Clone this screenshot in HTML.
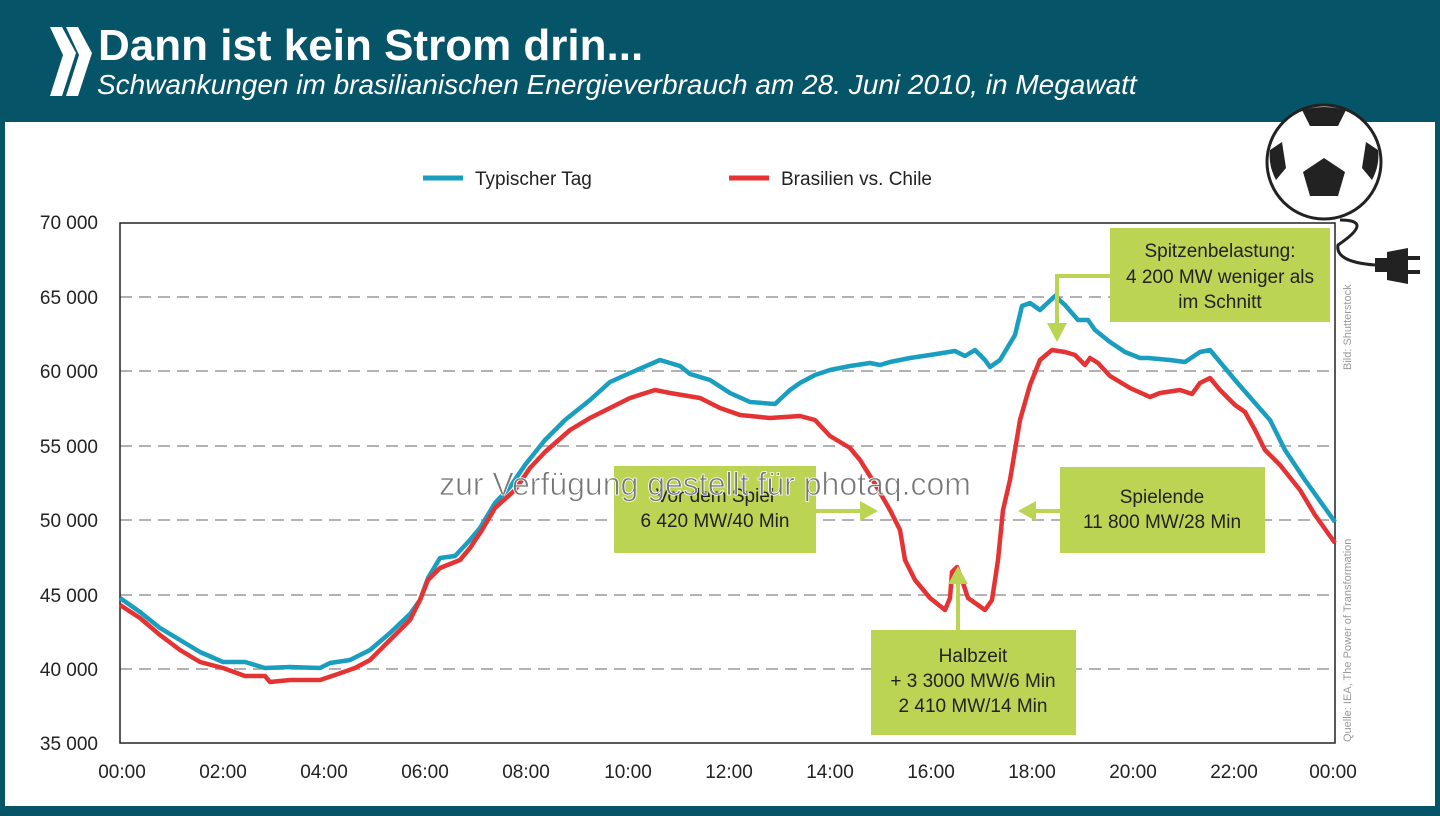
<!DOCTYPE html>
<html><head><meta charset="utf-8"><style>
body{margin:0;width:1440px;height:811px;overflow:hidden;background:#065468;font-family:"Liberation Sans",sans-serif}
</style></head><body>
<svg width="1440" height="811" xmlns="http://www.w3.org/2000/svg" font-family="Liberation Sans, sans-serif">
<rect width="1440" height="811" fill="#065468"/>
<rect x="5" y="122" width="1430" height="684" fill="#fff"/>
<path d="M50 27 L62 27 L76 53 L62 96 L50 96 L63 55 Z" fill="#fff"/>
<path d="M66 27 L78 27 L92 53 L78 96 L66 96 L79 55 Z" fill="#fff"/>
<text x="98" y="60" font-size="44" font-weight="bold" fill="#fff">Dann ist kein Strom drin...</text>
<text x="97" y="94" font-size="28" font-style="italic" fill="#fff">Schwankungen im brasilianischen Energieverbrauch am 28. Juni 2010, in Megawatt</text>
<line x1="423" y1="178" x2="463" y2="178" stroke="#1a9ebf" stroke-width="5"/>
<text x="475" y="185" font-size="19" fill="#222">Typischer Tag</text>
<line x1="729" y1="178" x2="769" y2="178" stroke="#e53333" stroke-width="5"/>
<text x="781" y="185" font-size="19" fill="#222">Brasilien vs. Chile</text>
<g stroke="#999" stroke-width="1.5" stroke-dasharray="12,7">
<line x1="120" y1="297" x2="1335" y2="297"/><line x1="120" y1="371" x2="1335" y2="371"/><line x1="120" y1="446" x2="1335" y2="446"/><line x1="120" y1="520" x2="1335" y2="520"/><line x1="120" y1="595" x2="1335" y2="595"/><line x1="120" y1="669" x2="1335" y2="669"/>
</g>
<rect x="120" y="223" width="1215" height="520" fill="none" stroke="#222" stroke-width="1.5"/>
<g font-size="19" fill="#222" text-anchor="end">
<text x="98" y="229">70 000</text><text x="98" y="304">65 000</text><text x="98" y="378">60 000</text><text x="98" y="453">55 000</text><text x="98" y="527">50 000</text><text x="98" y="602">45 000</text><text x="98" y="676">40 000</text><text x="98" y="750">35 000</text>
</g>
<g font-size="19" fill="#222" text-anchor="middle">
<text x="122" y="778">00:00</text><text x="223" y="778">02:00</text><text x="324" y="778">04:00</text><text x="425" y="778">06:00</text><text x="526" y="778">08:00</text><text x="628" y="778">10:00</text><text x="729" y="778">12:00</text><text x="830" y="778">14:00</text><text x="931" y="778">16:00</text><text x="1032" y="778">18:00</text><text x="1133" y="778">20:00</text><text x="1234" y="778">22:00</text><text x="1333" y="778">00:00</text>
</g>
<polyline fill="none" stroke="#1a9ebf" stroke-width="4.5" stroke-linejoin="round" points="120,598 140,612 160,628 180,640 200,652 223,662 245,662 265,668 290,667 320,668 330,663 350,660 370,650 390,633 410,614 420,600 428,578 440,558 455,556 470,540 480,528 495,503 510,487 525,465 545,440 565,420 590,400 610,382 630,373 660,360 680,366 690,374 710,380 730,393 750,402 775,404 790,390 800,383 815,375 830,370 850,366 870,363 880,365 890,362 910,358 930,355 955,351 965,356 975,350 985,360 990,367 1000,360 1015,335 1022,306 1030,303 1040,310 1055,296 1065,305 1078,320 1088,320 1095,330 1110,342 1125,352 1140,358 1148,358 1170,360 1185,362 1200,352 1210,350 1220,362 1235,380 1255,403 1270,420 1285,450 1305,480 1335,522"/>
<polyline fill="none" stroke="#e53333" stroke-width="4.5" stroke-linejoin="round" points="120,605 140,618 160,635 180,650 200,662 223,668 245,676 265,676 270,682 290,680 320,680 335,675 355,668 370,660 390,640 410,620 420,600 428,580 440,568 460,560 470,548 482,530 495,508 515,490 530,468 545,452 570,430 590,418 610,408 630,398 655,390 670,393 700,398 720,408 740,415 770,418 800,416 815,420 830,436 850,448 860,460 875,484 890,510 900,530 905,560 915,580 930,598 945,610 950,598 952,572 957,567 962,580 968,598 985,610 992,600 998,560 1003,510 1010,480 1020,420 1030,385 1040,360 1052,350 1065,352 1075,355 1085,365 1090,358 1098,363 1110,376 1130,388 1150,397 1160,393 1180,390 1192,394 1200,383 1210,378 1220,390 1235,405 1245,412 1255,430 1265,450 1280,465 1300,490 1315,515 1335,543"/>
<g fill="#bcd454" stroke="#bcd454">
<rect x="614" y="466" width="202" height="87" stroke="none"/>
<line x1="816" y1="511" x2="862" y2="511" stroke-width="4"/><path d="M860 501 L878 511 L860 521Z" stroke="none"/>
<rect x="1060" y="467" width="205" height="86" stroke="none"/>
<line x1="1060" y1="511" x2="1034" y2="511" stroke-width="4"/><path d="M1036 501 L1018 511 L1036 521Z" stroke="none"/>
<rect x="871" y="630" width="205" height="105" stroke="none"/>
<line x1="958" y1="630" x2="958" y2="582" stroke-width="4"/><path d="M948 584 L958 566 L968 584Z" stroke="none"/>
<rect x="1110" y="228" width="220" height="94" stroke="none"/>
<polyline points="1110,276 1057,276 1057,325" fill="none" stroke-width="4"/><path d="M1047 323 L1057 342 L1067 323Z" stroke="none"/>
</g>
<g font-size="19" fill="#222" text-anchor="middle">
<text x="715" y="502">Vor dem Spiel</text><text x="715" y="527">6 420 MW/40 Min</text>
<text x="1162" y="503">Spielende</text><text x="1162" y="528">11 800 MW/28 Min</text>
<text x="973" y="662">Halbzeit</text><text x="973" y="687">+ 3 3000 MW/6 Min</text><text x="973" y="712">2 410 MW/14 Min</text>
<text x="1220" y="257">Spitzenbelastung:</text><text x="1220" y="283">4 200 MW weniger als</text><text x="1220" y="308">im Schnitt</text>
</g>
<text x="705" y="495" font-size="32" text-anchor="middle" fill="#777" stroke="#fff" stroke-width="0.8">zur Verfügung gestellt für photaq.com</text>
<text transform="translate(1351,370) rotate(-90)" font-size="11" fill="#999">Bild: Shutterstock</text>
<text transform="translate(1351,742) rotate(-90)" font-size="11" fill="#999">Quelle: IEA, The Power of Transformation</text>
<circle cx="1324" cy="162" r="57" fill="#fff" stroke="#222" stroke-width="3"/>
<path d="M1324 158 L1345 172 L1338 196 L1310 196 L1303 172Z" fill="#222"/>
<path d="M1302 110 Q1324 104 1346 110 L1338 126 L1310 126Z" fill="#222"/>
<path d="M1270 150 L1282 142 L1286 168 L1276 180 Q1268 165 1270 150Z" fill="#222"/>
<path d="M1378 150 L1366 142 L1362 168 L1372 180 Q1380 165 1378 150Z" fill="#222"/>
<path d="M1340 220 Q1375 220 1338 245 Q1335 262 1375 265" fill="none" stroke="#222" stroke-width="3"/>
<rect x="1375" y="258" width="12" height="14" fill="#222"/><path d="M1387 252 L1408 248 L1408 284 L1387 280Z" fill="#222"/>
<rect x="1408" y="256" width="12" height="4" fill="#222"/><rect x="1408" y="270" width="12" height="4" fill="#222"/>
</svg>
</body></html>
